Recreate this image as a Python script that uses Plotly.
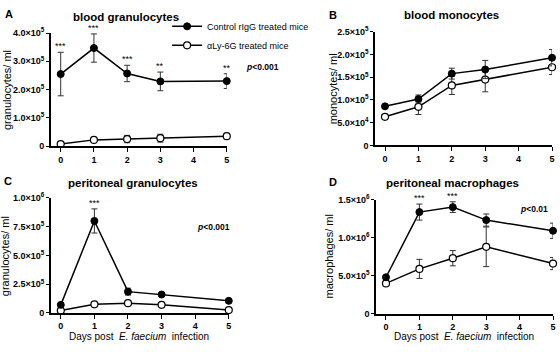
import plotly.graph_objects as go

W, H = 560, 352
FONT = "Liberation Sans, Arial, Helvetica, sans-serif"

days = [0, 1, 2, 3, 5]

# Panel A: blood granulocytes (per ml)
A_ctrl = [2.55e5, 3.47e5, 2.57e5, 2.29e5, 2.30e5]
A_ctrl_err = [0.77e5, 0.50e5, 0.29e5, 0.33e5, 0.26e5]
A_ly = [0.07e5, 0.22e5, 0.25e5, 0.28e5, 0.35e5]
A_ly_err = [0.01e5, 0.03e5, 0.13e5, 0.14e5, 0.10e5]
A_stars = ["***", "***", "***", "**", "**"]
A_ticks = [0, 1e5, 2e5, 3e5, 4e5]
A_ticktext = ["0", "1.0×10<sup>5</sup>", "2.0×10<sup>5</sup>", "3.0×10<sup>5</sup>", "4.0×10<sup>5</sup>"]

# Panel B: blood monocytes
B_ctrl = [0.86e5, 1.02e5, 1.58e5, 1.67e5, 1.93e5]
B_ctrl_err = [0.03e5, 0.09e5, 0.12e5, 0.20e5, 0.18e5]
B_ly = [0.63e5, 0.85e5, 1.32e5, 1.45e5, 1.72e5]
B_ly_err = [0.02e5, 0.17e5, 0.20e5, 0.27e5, 0.16e5]
B_ticks = [0, 0.5e5, 1.0e5, 1.5e5, 2.0e5, 2.5e5]
B_ticktext = ["0", "5.0×10<sup>4</sup>", "1.0×10<sup>5</sup>", "1.5×10<sup>5</sup>", "2.0×10<sup>5</sup>", "2.5×10<sup>5</sup>"]

# Panel C: peritoneal granulocytes
C_ctrl = [0.07e6, 0.80e6, 0.185e6, 0.16e6, 0.105e6]
C_ctrl_err = [0.01e6, 0.105e6, 0.03e6, 0.01e6, 0.008e6]
C_ly = [0.02e6, 0.075e6, 0.085e6, 0.07e6, 0.025e6]
C_ly_err = [0.004e6, 0.008e6, 0.008e6, 0.008e6, 0.004e6]
C_stars = ["", "***", "", "", ""]
C_ticks = [0, 0.25e6, 0.5e6, 0.75e6, 1.0e6]
C_ticktext = ["0", "2.5×10<sup>5</sup>", "5.0×10<sup>5</sup>", "7.5×10<sup>5</sup>", "1.0×10<sup>6</sup>"]

# Panel D: peritoneal macrophages
D_ctrl = [0.48e6, 1.335e6, 1.40e6, 1.23e6, 1.09e6]
D_ctrl_err = [0.02e6, 0.105e6, 0.07e6, 0.08e6, 0.10e6]
D_ly = [0.40e6, 0.59e6, 0.73e6, 0.88e6, 0.66e6]
D_ly_err = [0.02e6, 0.125e6, 0.10e6, 0.26e6, 0.08e6]
D_stars = ["", "***", "***", "", ""]
D_ticks = [0, 0.5e6, 1.0e6, 1.5e6]
D_ticktext = ["0", "5.0×10<sup>5</sup>", "1.0×10<sup>6</sup>", "1.5×10<sup>6</sup>"]

x_ticks = [0, 1, 2, 3, 4, 5]


def px_x(p):
    return p / W


def px_y(p):
    return 1 - p / H


panels = [
    dict(ax="", c=A_ctrl, ce=A_ctrl_err, l=A_ly, le=A_ly_err, stars=A_stars,
         t=A_ticks, tt=A_ticktext, ymax=4e5, xd=(51, 228), yd=(144, 27)),
    dict(ax="2", c=B_ctrl, ce=B_ctrl_err, l=B_ly, le=B_ly_err, stars=None,
         t=B_ticks, tt=B_ticktext, ymax=2.5e5, xd=(377, 555), yd=(143.3, 25.7)),
    dict(ax="3", c=C_ctrl, ce=C_ctrl_err, l=C_ly, le=C_ly_err, stars=C_stars,
         t=C_ticks, tt=C_ticktext, ymax=1.0e6, xd=(51, 230), yd=(316.7, 197.7)),
    dict(ax="4", c=D_ctrl, ce=D_ctrl_err, l=D_ly, le=D_ly_err, stars=D_stars,
         t=D_ticks, tt=D_ticktext, ymax=1.5e6, xd=(378, 556), yd=(317.7, 199.3)),
]

fig = go.Figure()
layout_axes = {}
annotations = []

for i, p in enumerate(panels):
    xa = "x" + p["ax"]
    ya = "y" + p["ax"]
    first = i == 0
    fig.add_trace(go.Scatter(
        x=days, y=p["l"], mode="lines+markers", xaxis=xa, yaxis=ya,
        name="αLy-6G treated mice", showlegend=first, legendrank=2,
        line=dict(color="black", width=1.5),
        marker=dict(symbol="circle", size=7, color="white", line=dict(color="black", width=1.2)),
        error_y=dict(type="data", array=p["le"], visible=True, color="#333", thickness=1, width=3),
        cliponaxis=False))
    fig.add_trace(go.Scatter(
        x=days, y=p["c"], mode="lines+markers", xaxis=xa, yaxis=ya,
        name="Control rIgG treated mice", showlegend=first, legendrank=1,
        line=dict(color="black", width=1.5),
        marker=dict(symbol="circle", size=7, color="black", line=dict(color="black", width=1)),
        error_y=dict(type="data", array=p["ce"], visible=True, color="#333", thickness=1, width=3),
        cliponaxis=False))
    key = "xaxis" + p["ax"]
    ykey = "yaxis" + p["ax"]
    layout_axes[key] = dict(
        domain=[px_x(p["xd"][0]), px_x(p["xd"][1])], range=[-0.3, 5], anchor=ya,
        tickmode="array", tickvals=x_ticks, ticktext=[str(v) for v in x_ticks],
        ticks="outside", ticklen=4, tickwidth=1.3, tickcolor="black",
        showline=True, linecolor="black", linewidth=1.5, showgrid=False, zeroline=False,
        tickfont=dict(family=FONT, size=9, color="black", weight="bold"))
    layout_axes[ykey] = dict(
        domain=[px_y(p["yd"][0]), px_y(p["yd"][1])], range=[0, p["ymax"]], anchor=xa,
        tickmode="array", tickvals=p["t"], ticktext=p["tt"],
        ticks="outside", ticklen=3, tickwidth=1.3, tickcolor="black",
        showline=True, linecolor="black", linewidth=1.5, showgrid=False, zeroline=False,
        tickfont=dict(family=FONT, size=9, color="black", weight="bold"))
    if p["stars"]:
        for d, m, e, s in zip(days, p["c"], p["ce"], p["stars"]):
            if s:
                annotations.append(dict(x=d, y=m + e, xref=xa, yref=ya, text=s, showarrow=False,
                                        yanchor="bottom", yshift=-1,
                                        font=dict(family=FONT, size=9, color="black")))


def txt(x, y, s, size, bold=False, angle=0, xanchor="center", yanchor="middle"):
    annotations.append(dict(x=px_x(x), y=px_y(y), xref="paper", yref="paper", text=s,
                            showarrow=False, textangle=angle, xanchor=xanchor, yanchor=yanchor,
                            font=dict(family=FONT, size=size, color="black",
                                      weight="bold" if bold else "normal")))


# panel letters
txt(3, 7, "A", 11, True, xanchor="left")
txt(329, 8, "B", 11, True, xanchor="left")
txt(2, 180, "C", 11, True, xanchor="left")
txt(329, 181, "D", 11, True, xanchor="left")
# titles
txt(127, 10, "blood granulocytes", 11.5, True)
txt(454, 8, "blood monocytes", 11.5, True)
txt(134, 182, "peritoneal granulocytes", 11.5, True)
txt(455, 182, "peritoneal macrophages", 11.5, True)
# y titles
txt(7, 86, "granulocytes/ ml", 11, angle=-90)
txt(335, 85, "monocytes/ ml", 11, angle=-90)
txt(5, 258, "granulocytes/ ml", 11, angle=-90)
txt(331, 258, "macrophages/ ml", 11, angle=-90)
# x titles
txt(140, 341, "Days post  <i>E. faecium</i>  infection", 10)
txt(467, 341, "Days post  <i>E. faecium</i>  infection", 10)
# p values
txt(283, 62, "<i>p</i><0.001", 8.5, True, xanchor="right")
txt(233, 228, "<i>p</i><0.001", 8.5, True, xanchor="right")
txt(553, 209, "<i>p</i><0.01", 8.5, True, xanchor="right")

fig.update_layout(
    width=W, height=H, margin=dict(l=0, r=0, t=0, b=0),
    paper_bgcolor="white", plot_bgcolor="white",
    showlegend=True,
    legend=dict(x=px_x(168), y=px_y(5), xanchor="left", yanchor="top",
                bgcolor="rgba(0,0,0,0)", itemwidth=30, tracegroupgap=0,
                font=dict(family=FONT, size=9, color="black")),
    annotations=annotations,
    **layout_axes)

fig.write_html("out.html", config={"displayModeBar": False})

# remove the default page margin so the figure sits at the window origin
with open("out.html", "r", encoding="utf-8") as f:
    html = f.read()
html = html.replace("<head>", "<head><style>html,body{margin:0;padding:0;}</style>", 1)
with open("out.html", "w", encoding="utf-8") as f:
    f.write(html)
